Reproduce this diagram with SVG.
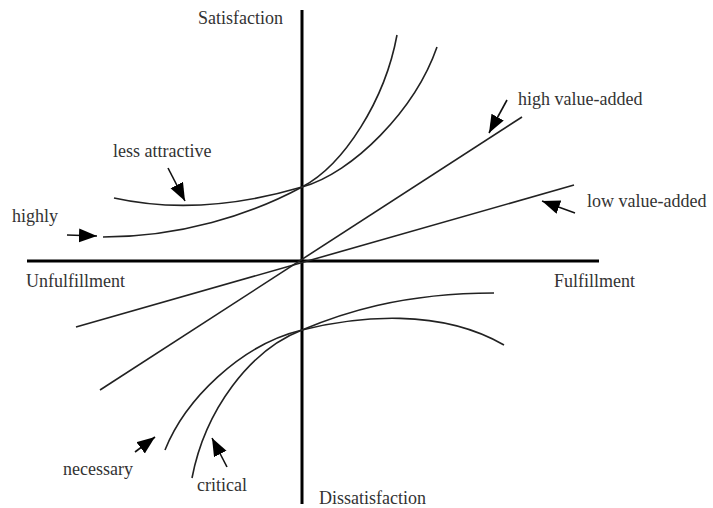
<svg xmlns="http://www.w3.org/2000/svg" width="713" height="508" viewBox="0 0 713 508">
<style>
text{font-family:"Liberation Serif","Times New Roman",serif;font-size:18px;fill:#333}
.axis{stroke:#000;stroke-width:3;fill:none}
.curve{stroke:#222;stroke-width:1.6;fill:none}
.arr{stroke:#111;stroke-width:1.6;fill:none;marker-end:url(#ah)}
</style>
<defs>
<marker id="ah" markerWidth="20" markerHeight="16" refX="18" refY="7" orient="auto" markerUnits="userSpaceOnUse">
<path d="M0,0 L18,7 L0,14 z" fill="#000"/>
</marker>
</defs>
<rect width="713" height="508" fill="#fff"/>
<g id="axes">
<line class="axis" x1="302" y1="10" x2="302" y2="504"/>
<line class="axis" x1="27" y1="261" x2="599" y2="261"/>
</g>
<g id="curves">
<path id="less-attractive-curve" class="curve" d="M114,198 Q200,217 302,187 C353,173 415,110 437,47"/>
<path id="highly-curve" class="curve" d="M103,237 C180,237 250,215 302,187 C344,165 385,100 397,35"/>
<line id="high-value-line" class="curve" x1="100" y1="390" x2="522" y2="117"/>
<line id="low-value-line" class="curve" x1="76" y1="327" x2="574" y2="185"/>
<path id="necessary-curve" class="curve" d="M165,450 C185,400 240,345 302,330 C358,316 440,308 504,345"/>
<path id="critical-curve" class="curve" d="M192,478 C205,410 250,350 302,330 C340,314 400,293 494,293"/>
</g>
<g id="connectors">
<line class="arr" x1="67" y1="235" x2="97" y2="236"/>
<line class="arr" x1="168" y1="168" x2="185" y2="201"/>
<line class="arr" x1="507" y1="100" x2="489" y2="133"/>
<line class="arr" x1="575" y1="213" x2="542" y2="201"/>
<line class="arr" x1="135" y1="452" x2="155" y2="437"/>
<line class="arr" x1="227" y1="467" x2="212" y2="438"/>
</g>
<g id="labels">
<text id="satisfaction" x="198" y="24">Satisfaction</text>
<text id="dissatisfaction" x="319" y="504">Dissatisfaction</text>
<text id="unfulfillment" x="26" y="287">Unfulfillment</text>
<text id="fulfillment" x="554" y="287">Fulfillment</text>
<text id="less-attractive" x="113" y="157">less attractive</text>
<text id="highly" x="12" y="222">highly</text>
<text id="high-value-added" x="518" y="105">high value-added</text>
<text id="low-value-added" x="587" y="207">low value-added</text>
<text id="necessary" x="63" y="475">necessary</text>
<text id="critical" x="197" y="491">critical</text>
</g>
</svg>
